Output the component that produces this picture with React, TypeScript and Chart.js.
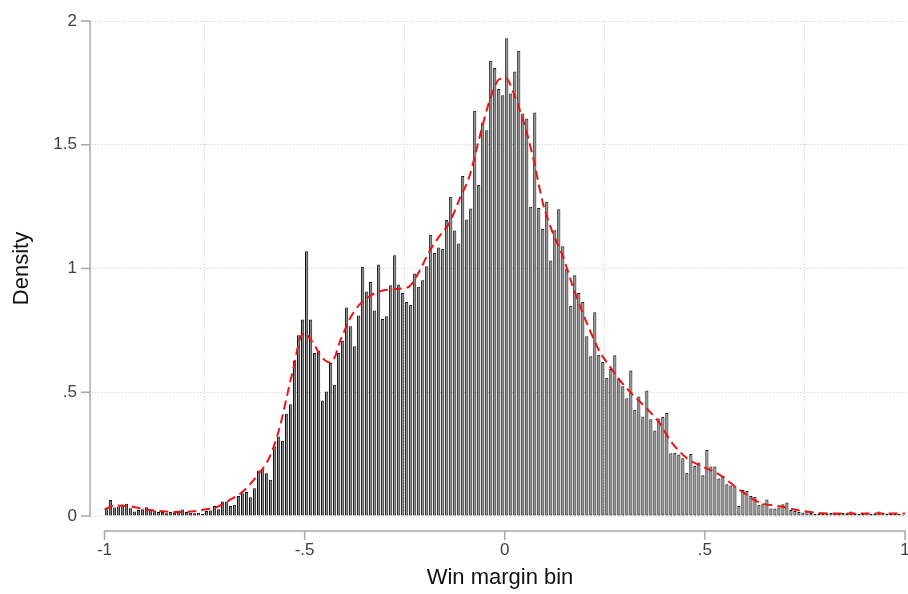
import React, { useEffect, useRef } from "react";
import { Chart, registerables } from "chart.js";

Chart.register(...registerables);

// Histogram: bins of width 0.01 starting at -1
const binStart = -1;
const binWidth = 0.01;
const density = [
  0.027, 0.065, 0.034, 0.038, 0.046, 0.049, 0.031, 0.018, 0.024, 0.027,
  0.035, 0.024, 0.022, 0.016, 0.016, 0.011, 0.016, 0.013, 0.022, 0.026,
  0.016, 0.013, 0.011, 0.013, 0.008, 0.02, 0.022, 0.04, 0.027, 0.059,
  0.059, 0.04, 0.045, 0.081, 0.092, 0.097, 0.076, 0.112, 0.184, 0.189,
  0.173, 0.146, 0.281, 0.321, 0.304, 0.413, 0.452, 0.628, 0.73, 0.794,
  1.07, 0.794, 0.659, 0.669, 0.467, 0.503, 0.618, 0.53, 0.659, 0.708,
  0.842, 0.767, 0.686, 0.81, 1.007, 0.907, 0.945, 0.83, 1.016, 0.796,
  0.807, 0.932, 1.054, 0.935, 0.901, 0.865, 0.854, 0.98, 0.926, 0.953,
  1.009, 1.136, 1.063, 1.085, 1.08, 1.196, 1.29, 1.154, 1.101, 1.374,
  1.198, 1.242, 1.637, 1.337, 1.59, 1.559, 1.839, 1.81, 1.725, 1.7,
  1.93, 1.707, 1.796, 1.88, 1.626, 1.606, 1.25, 1.63, 1.244, 1.16,
  1.27, 1.032, 1.155, 1.239, 1.09, 0.999, 0.85, 0.973, 0.901, 0.865,
  0.726, 0.645, 0.823, 0.652, 0.622, 0.559, 0.594, 0.65, 0.555, 0.524,
  0.476, 0.588, 0.429, 0.483, 0.402, 0.507, 0.391, 0.345, 0.394, 0.4,
  0.416, 0.254, 0.256, 0.248, 0.233, 0.175, 0.251, 0.202, 0.216, 0.165,
  0.267, 0.2, 0.2, 0.152, 0.163, 0.128, 0.123, 0.119, 0.04, 0.105,
  0.101, 0.081, 0.078, 0.045, 0.051, 0.067, 0.03, 0.03, 0.034, 0.047,
  0.055, 0.024, 0.02, 0.016, 0.014, 0.018, 0.012, 0.008, 0.01, 0.008,
  0.01, 0.012, 0.008, 0.01, 0.012, 0.01, 0.018, 0.01, 0.008, 0.01,
  0.012, 0.008, 0.01, 0.018, 0.012, 0.01, 0.008, 0.01, 0.008, 0.006,
];

// Kernel density estimate (red dashed)
const kdeX = [
  -1, -0.975, -0.94, -0.9, -0.856, -0.816, -0.775, -0.75, -0.722, -0.687,
  -0.655, -0.62, -0.587, -0.562, -0.542, -0.525, -0.512, -0.5, -0.49, -0.475,
  -0.462, -0.45, -0.437, -0.425, -0.413, -0.4, -0.388, -0.363, -0.338, -0.305,
  -0.263, -0.238, -0.213, -0.188, -0.163, -0.138, -0.113, -0.088, -0.063, -0.038,
  -0.013, 0.004, 0.02, 0.045, 0.07, 0.095, 0.12, 0.145, 0.17, 0.195,
  0.212, 0.237, 0.262, 0.287, 0.312, 0.337, 0.362, 0.387, 0.412, 0.437,
  0.462, 0.487, 0.537, 0.587, 0.637, 0.687, 0.73, 0.755, 0.795, 0.85,
  0.9, 0.95, 1.0,
];
const kdeY = [
  0.027, 0.042, 0.04, 0.027, 0.019, 0.016, 0.019, 0.026, 0.034, 0.065,
  0.098, 0.16, 0.24, 0.36, 0.5, 0.62, 0.715, 0.74, 0.723, 0.69,
  0.652, 0.63, 0.62, 0.64, 0.7, 0.75, 0.794, 0.854, 0.888, 0.911,
  0.918, 0.928, 0.99, 1.07, 1.131, 1.185, 1.28, 1.374, 1.53, 1.677,
  1.765, 1.768, 1.718, 1.603, 1.455, 1.266, 1.144, 1.05, 0.928, 0.82,
  0.753, 0.665, 0.605, 0.55, 0.503, 0.463, 0.422, 0.375, 0.308, 0.26,
  0.225, 0.205, 0.166, 0.105, 0.054, 0.039, 0.024, 0.018, 0.011, 0.01,
  0.01, 0.01, 0.01,
];

const xTicks = [-1, -0.5, 0, 0.5, 1];
const xTickLabels = ["-1", "-.5", "0", ".5", "1"];
const yTicks = [0, 0.5, 1, 1.5, 2];
const yTickLabels = ["0", ".5", "1", "1.5", "2"];

const FONT = "'Liberation Sans', Arial, Helvetica, sans-serif";
const AXIS_COLOR = "#a8a8a8";
const TICK_TEXT = "#404040";

const stataAxes = {
  id: "stataAxes",
  afterDraw(chart: any) {
    const { ctx, chartArea, scales } = chart;
    const xs = scales.x;
    const ys = scales.y;
    ctx.save();
    ctx.strokeStyle = AXIS_COLOR;
    ctx.lineWidth = 1.5;
    ctx.setLineDash([]);
    // y axis (offset to the left of plot region)
    const ax = chartArea.left - 2;
    ctx.beginPath();
    ctx.moveTo(ax, ys.getPixelForValue(yTicks[0]) + 0.75);
    ctx.lineTo(ax, ys.getPixelForValue(yTicks[yTicks.length - 1]) - 0.75);
    yTicks.forEach((v) => {
      const py = ys.getPixelForValue(v);
      ctx.moveTo(ax - 9, py);
      ctx.lineTo(ax, py);
    });
    ctx.stroke();
    // x axis (offset below plot region)
    const ay = chartArea.bottom + 15;
    ctx.beginPath();
    ctx.moveTo(xs.getPixelForValue(xTicks[0]) - 0.75, ay);
    ctx.lineTo(xs.getPixelForValue(xTicks[xTicks.length - 1]) + 0.75, ay);
    xTicks.forEach((v) => {
      const px = xs.getPixelForValue(v);
      ctx.moveTo(px, ay);
      ctx.lineTo(px, ay + 9);
    });
    ctx.stroke();
    ctx.restore();
  },
};

export default function App() {
  const ref = useRef<HTMLCanvasElement | null>(null);

  useEffect(() => {
    if (!ref.current) return;
    const bars = density.map((v, i) => ({
      x: binStart + binWidth * (i + 0.5),
      y: v,
    }));
    const kde = kdeX.map((x, i) => ({ x, y: kdeY[i] }));

    const chart = new Chart(ref.current, {
      type: "bar",
      data: {
        datasets: [
          {
            type: "line",
            label: "kdensity",
            data: kde,
            borderColor: "rgb(236,20,20)",
            borderWidth: 2,
            borderDash: [9, 5],
            pointRadius: 0,
            fill: false,
            cubicInterpolationMode: "monotone",
            order: 0,
          } as any,
          {
            type: "bar",
            label: "Density",
            data: bars,
            backgroundColor: "#8a8a8a",
            borderColor: "#111111",
            borderWidth: 1,
            borderSkipped: false,
            barPercentage: 0.8,
            categoryPercentage: 1,
            order: 1,
          } as any,
        ],
      },
      options: {
        animation: false,
        responsive: false,
        devicePixelRatio: 1,
        layout: { padding: { left: 0, right: 0, top: 21, bottom: 0 } },
        plugins: {
          legend: { display: false },
          tooltip: { enabled: false },
        },
        scales: {
          x: {
            type: "linear",
            offset: false,
            min: -1.0312,
            max: 1.0075,
            afterFit: (s: any) => {
              s.height = 78;
              s.paddingLeft = 0;
              s.paddingRight = 0;
            },
            afterBuildTicks: (s: any) => {
              s.ticks = xTicks.map((v) => ({ value: v }));
            },
            grid: {
              color: "#cfcfcf",
              lineWidth: 1,
              drawTicks: false,
            },
            border: { display: false, dash: [1, 2] },
            ticks: {
              padding: 24,
              color: TICK_TEXT,
              font: { family: FONT, size: 17 },
              maxRotation: 0,
              autoSkip: false,
              callback: (v: any) => {
                const idx = xTicks.findIndex((t) => Math.abs(t - Number(v)) < 1e-9);
                return idx >= 0 ? xTickLabels[idx] : "";
              },
            },
            title: {
              display: true,
              text: "Win margin bin",
              color: "#111111",
              font: { family: FONT, size: 22 },
              padding: { top: 0, bottom: 3 },
            },
          },
          y: {
            type: "linear",
            min: 0,
            max: 2,
            afterFit: (s: any) => {
              s.width = 92;
              s.paddingTop = 0;
              s.paddingBottom = 0;
            },
            afterBuildTicks: (s: any) => {
              s.ticks = yTicks.map((v) => ({ value: v }));
            },
            grid: {
              color: "#cfcfcf",
              lineWidth: 1,
              drawTicks: false,
            },
            border: { display: false, dash: [1, 2] },
            ticks: {
              padding: 15,
              color: TICK_TEXT,
              font: { family: FONT, size: 17 },
              autoSkip: false,
              callback: (v: any) => {
                const idx = yTicks.findIndex((t) => Math.abs(t - Number(v)) < 1e-9);
                return idx >= 0 ? yTickLabels[idx] : "";
              },
            },
            title: {
              display: true,
              text: "Density",
              color: "#111111",
              font: { family: FONT, size: 22 },
              padding: { top: 9, bottom: 0 },
            },
          },
        },
      },
      plugins: [stataAxes],
    });
    return () => chart.destroy();
  }, []);

  return (
    <div
      style={{
        position: "fixed",
        left: 0,
        top: 0,
        width: 908,
        height: 594,
        background: "#ffffff",
      }}
    >
      <canvas ref={ref} width={908} height={594} style={{ display: "block" }} />
    </div>
  );
}
